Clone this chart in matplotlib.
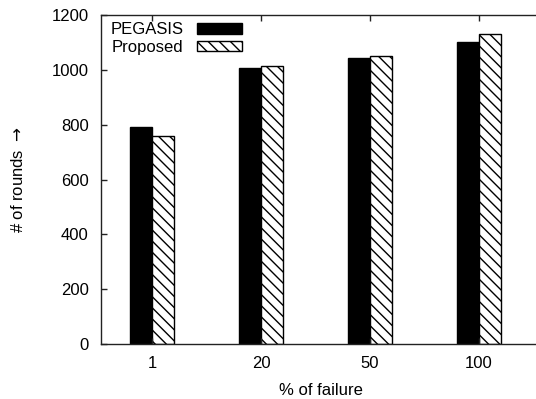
import matplotlib
matplotlib.use("Agg")
import matplotlib.pyplot as plt
import numpy as np

categories = ["1", "20", "50", "100"]
pegasis = [790, 1005, 1043, 1100]
proposed = [760, 1015, 1050, 1130]
yticks = [0, 200, 400, 600, 800, 1000, 1200]

plt.rcParams["font.family"] = ["Liberation Sans", "DejaVu Sans"]
plt.rcParams["hatch.linewidth"] = 1.0

fig = plt.figure(figsize=(5.36, 3.99), dpi=100)
# the frame runs slightly past the right edge of the canvas
ax = fig.add_axes([101 / 536, (399 - 344) / 399, (541 - 101) / 536, (344 - 15) / 399])

x = np.arange(1, len(categories) + 1)
w = 0.2
ax.bar(x - w / 2, pegasis, w, color="black", edgecolor="black", linewidth=1.0,
       label="PEGASIS")
ax.bar(x + w / 2, proposed, w, color="white", edgecolor="black", linewidth=1.0,
       hatch="\\\\\\", label="Proposed")

ax.set_xlim(1 - 51 / 109, 4 + 62 / 109)
ax.set_ylim(0, 1200)
ax.set_xticks(x)
ax.set_xticklabels(categories)
ax.set_yticks(yticks)
ax.tick_params(direction="in", length=4, width=1, labelsize=12, top=True,
               right=False, pad=9, colors="#222222", labelcolor="black")
for s in ax.spines.values():
    s.set_linewidth(1.0)
    s.set_color("#222222")

ax.set_xlabel("% of failure", fontsize=12, labelpad=8)
ax.set_ylabel("# of rounds $\\rightarrow$", fontsize=12)
ax.yaxis.set_label_coords(-75 / 440, 0.5)

leg = ax.legend(loc="upper left", bbox_to_anchor=(2 / 440, 1.0), frameon=False,
                fontsize=12, markerfirst=False, handlelength=2.7,
                handleheight=0.6, labelspacing=0.15, handletextpad=0.78,
                borderaxespad=0.05)
for t in leg.get_texts():
    t.set_ha("right")

fig.savefig("out.png", dpi=100)
